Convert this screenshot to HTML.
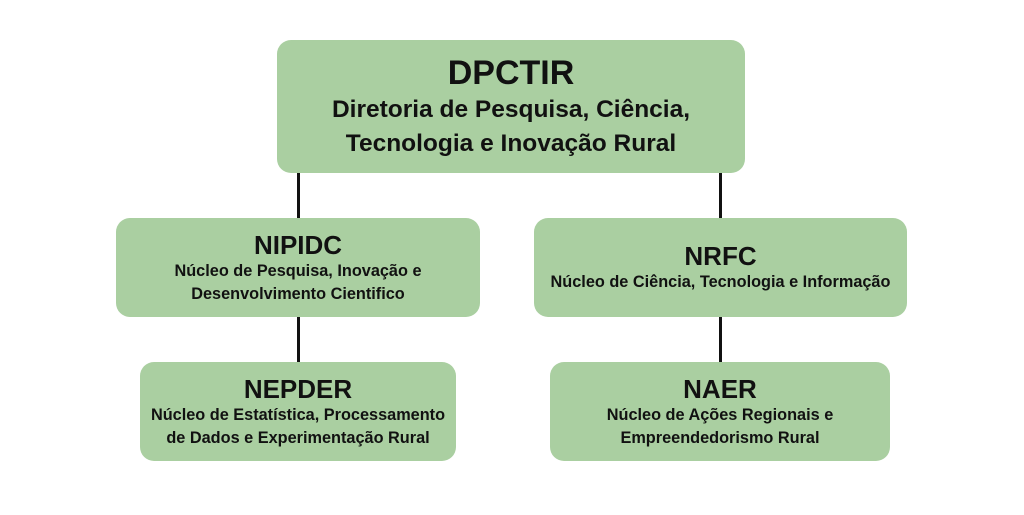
<!DOCTYPE html>
<html><head><meta charset="utf-8"><style>
body{margin:0;width:1024px;height:515px;background:#fff;position:relative;font-family:"Liberation Sans","DejaVu Sans",sans-serif;font-weight:bold;color:#111;overflow:hidden}
.b{position:absolute;background:#aacfa1;border-radius:14px;display:flex;flex-direction:column;align-items:center;justify-content:center;text-align:center}
.l{position:absolute;width:3px;background:#111}
.t{font-size:34px;line-height:40px}
.s{font-size:24.5px;line-height:34px}
.h{font-size:26px;line-height:30px}
.p{font-size:16.3px;line-height:23px}
</style></head><body>
<div class="l" style="left:297px;top:170px;height:50px"></div>
<div class="l" style="left:719px;top:170px;height:50px"></div>
<div class="l" style="left:297px;top:315px;height:50px"></div>
<div class="l" style="left:719px;top:315px;height:50px"></div>
<div class="b" style="left:277px;top:40px;width:468px;height:133px"><div class="t">DPCTIR</div><div class="s">Diretoria de Pesquisa, Ciência,<br>Tecnologia e Inovação Rural</div></div>
<div class="b" style="left:116px;top:218px;width:364px;height:99px"><div class="h">NIPIDC</div><div class="p">Núcleo de Pesquisa, Inovação e<br>Desenvolvimento Cientifico</div></div>
<div class="b" style="left:534px;top:218px;width:373px;height:99px"><div class="h">NRFC</div><div class="p">Núcleo de Ciência, Tecnologia e Informação</div></div>
<div class="b" style="left:140px;top:362px;width:316px;height:99px"><div class="h">NEPDER</div><div class="p">Núcleo de Estatística, Processamento<br>de Dados e Experimentação Rural</div></div>
<div class="b" style="left:550px;top:362px;width:340px;height:99px"><div class="h">NAER</div><div class="p">Núcleo de Ações Regionais e<br>Empreendedorismo Rural</div></div>
</body></html>
